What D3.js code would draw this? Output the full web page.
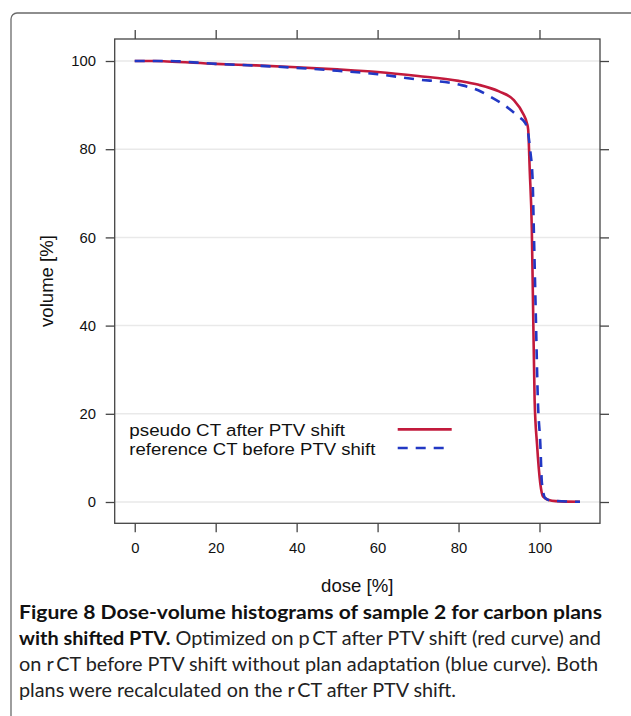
<!DOCTYPE html>
<html>
<head>
<meta charset="utf-8">
<script src="https://cdn.jsdelivr.net/npm/d3@7"></script>
<style>
body { margin: 0; background: #fff; }
</style>
</head>
<body>
<script>

// DVH
var redDose   = [0, 5, 8, 20, 30, 40, 50, 60, 70, 80, 85, 90, 93.6, 96.1, 96.9, 97.2, 97.6, 98.1, 98.4, 98.8, 99.4, 100.2, 100.9, 102.3, 104, 110];
var redVolume = [100, 100, 99.9, 99.35, 99.0, 98.6, 98.1, 97.5, 96.6, 95.5, 94.6, 93.1, 91.2, 87.8, 85.9, 84.5, 75, 62, 45, 23, 13, 4.2, 1.2, 0.45, 0.2, 0.05];

var blueDose   = [0, 8, 20, 30, 40, 50, 60, 69, 80.4, 85, 87.9, 91.9, 94.8, 96.5, 97.2, 97.7, 98.3, 98.6, 99.1, 99.6, 100.2, 100.6, 101.4, 103, 110];
var blueVolume = [100, 100, 99.35, 98.95, 98.45, 97.8, 97.0, 95.9, 94.6, 93.3, 91.9, 89.6, 87.4, 85.9, 83.6, 79.8, 73, 61.7, 42, 23, 13.3, 4.3, 0.9, 0.3, 0.05];

var xTicks = [0, 20, 40, 60, 80, 100];
var yTicks = [0, 20, 40, 60, 80, 100];
var legendLabels = ['pseudo CT after PTV shift', 'reference CT before PTV shift'];
var legendWidths = [215.7, 246];
var seriesColors = ['#c21a3c', '#2238c4'];

var captionBold = ['Figure 8 Dose-volume histograms of sample 2 for carbon plans', 'with shifted PTV.'];
var captionText = [' Optimized on p\u2009CT after PTV shift (red curve) and',
	'on r\u2009CT before PTV shift without plan adaptation (blue curve). Both',
	'plans were recalculated on the r\u2009CT after PTV shift.'];

var svg = d3.select('body').append('svg')
	.attr('width', 631)
	.attr('height', 716);

svg.append('rect')
	.attr('x', 11)
	.attr('y', 13)
	.attr('width', 660)
	.attr('height', 760)
	.attr('rx', 6)
	.attr('fill', 'none')
	.attr('stroke', '#6a6a6a')
	.attr('stroke-width', 1.3);

var x = d3.scaleLinear().domain([-4.95, 114.95]).range([114.7, 600]);
var y = d3.scaleLinear().domain([-4.83, 104.99]).range([523.3, 39]);

// grid
svg.selectAll('.grid')
	.data(yTicks)
	.enter().append('line')
	.attr('x1', x.range()[0])
	.attr('x2', x.range()[1])
	.attr('y1', function(d){ return y(d); })
	.attr('y2', function(d){ return y(d); })
	.attr('stroke', '#e9e9e9')
	.attr('stroke-width', 1.5);

var line = d3.line()
	.x(function(d){ return x(d[0]); })
	.y(function(d){ return y(d[1]); })
	.curve(d3.curveMonotoneX);

svg.append('path')
	.datum(d3.zip(redDose, redVolume))
	.attr('d', line)
	.attr('fill', 'none')
	.attr('stroke', seriesColors[0])
	.attr('stroke-width', 2.6);

svg.append('path')
	.datum(d3.zip(blueDose, blueVolume))
	.attr('d', line)
	.attr('fill', 'none')
	.attr('stroke', seriesColors[1])
	.attr('stroke-width', 2.6)
	.attr('stroke-dasharray', '10,8');

// axes
var tickFont = 'Liberation Sans, Arial, Helvetica, sans-serif';

svg.append('g')
	.attr('transform', 'translate(' + x.range()[0] + ',0)')
	.call(d3.axisLeft(y).tickValues(yTicks).tickSize(9).tickPadding(9.7));
svg.append('g')
	.attr('transform', 'translate(' + x.range()[1] + ',0)')
	.call(d3.axisRight(y).tickValues(yTicks).tickSize(9).tickFormat(''));
svg.append('g')
	.attr('transform', 'translate(0,' + y.range()[0] + ')')
	.call(d3.axisBottom(x).tickValues(xTicks).tickSize(9).tickPadding(10));
svg.append('g')
	.attr('transform', 'translate(0,' + y.range()[1] + ')')
	.call(d3.axisTop(x).tickValues(xTicks).tickSize(9).tickFormat(''));

svg.selectAll('.domain').remove();
svg.selectAll('.tick line')
	.attr('stroke', '#444')
	.attr('stroke-width', 1.3);
svg.selectAll('.tick text')
	.attr('font-family', tickFont)
	.attr('font-size', 14.8)
	.attr('fill', '#111');

svg.append('rect')
	.attr('x', x.range()[0])
	.attr('y', y.range()[1])
	.attr('width', x.range()[1] - x.range()[0])
	.attr('height', y.range()[0] - y.range()[1])
	.attr('fill', 'none')
	.attr('stroke', '#444')
	.attr('stroke-width', 1.3);

svg.append('text')
	.attr('x', 357.3)
	.attr('y', 592)
	.attr('text-anchor', 'middle')
	.attr('font-family', tickFont)
	.attr('font-size', 18.6)
	.attr('fill', '#111')
	.text('dose [%]');

svg.append('text')
	.attr('transform', 'translate(53,281) rotate(-90)')
	.attr('text-anchor', 'middle')
	.attr('font-family', tickFont)
	.attr('font-size', 18.6)
	.attr('fill', '#111')
	.text('volume [%]');

// legend, rows packed tight like lattice does
svg.selectAll('.legend-text')
	.data(legendLabels)
	.enter().append('text')
	.attr('x', 129.3)
	.attr('y', function(d, i){ return 435.6 + i * 19.2; })
	.attr('font-family', tickFont)
	.attr('font-size', 17.2)
	.attr('fill', '#111')
	.attr('textLength', function(d, i){ return legendWidths[i]; })
	.attr('lengthAdjust', 'spacingAndGlyphs')
	.text(function(d){ return d; });

svg.selectAll('.legend-key')
	.data(legendLabels)
	.enter().append('line')
	.attr('x1', 397.7)
	.attr('x2', 451.7)
	.attr('y1', function(d, i){ return 429.4 + i * 18.6; })
	.attr('y2', function(d, i){ return 429.4 + i * 18.6; })
	.attr('stroke', function(d, i){ return seriesColors[i]; })
	.attr('stroke-width', 2.6)
	.attr('stroke-dasharray', function(d, i){ return i == 1 ? '10,8' : null; });

// caption
var capFont = 'Lato, "Open Sans", sans-serif';
var capWidths = [583, 582, 579, 437];
var capY = [618.5, 644.5, 670.5, 696.5];

svg.append('text')
	.attr('x', 19)
	.attr('y', capY[0])
	.attr('font-family', capFont)
	.attr('font-size', 19.5)
	.attr('font-weight', 'bold')
	.attr('fill', '#111')
	.attr('textLength', capWidths[0])
	.attr('lengthAdjust', 'spacingAndGlyphs')
	.text(captionBold[0]);

var cap2 = svg.append('text')
	.attr('x', 19)
	.attr('y', capY[1])
	.attr('font-family', capFont)
	.attr('font-size', 19.5)
	.attr('fill', '#222')
	.attr('textLength', capWidths[1])
	.attr('lengthAdjust', 'spacingAndGlyphs');
cap2.append('tspan')
	.attr('font-weight', 'bold')
	.attr('fill', '#111')
	.text(captionBold[1]);
cap2.append('tspan')
	.text(captionText[0]);

svg.append('text')
	.attr('x', 19)
	.attr('y', capY[2])
	.attr('font-family', capFont)
	.attr('font-size', 19.5)
	.attr('fill', '#222')
	.attr('textLength', capWidths[2])
	.attr('lengthAdjust', 'spacingAndGlyphs')
	.text(captionText[1]);

svg.append('text')
	.attr('x', 19)
	.attr('y', capY[3])
	.attr('font-family', capFont)
	.attr('font-size', 19.5)
	.attr('fill', '#222')
	.attr('textLength', capWidths[3])
	.attr('lengthAdjust', 'spacingAndGlyphs')
	.text(captionText[2]);

</script>
</body>
</html>
